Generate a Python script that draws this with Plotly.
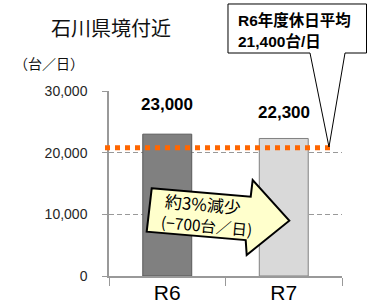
import plotly.graph_objects as go

# ---- data ----
categories = ["R6", "R7"]
traffic = [23000, 22300]                 # 台/日
value_labels = ["23,000", "22,300"]
holiday_avg_drawn = 20800                # position of the dotted line as drawn
callout_lines = ["R6年度休日平均", "21,400台/日"]
arrow_lines = ["約3%減少", "(−700台／日)"]
y_ticks = [0, 10000, 20000, 30000]
y_ticklabels = ["0", "10,000", "20,000", "30,000"]

# ---- style ----
W, H = 371, 307
L, R, T, B = 109, 29, 91, 31
PW, PH = W - L - R, H - T - B
JP = "Noto Sans CJK JP"
LAT = "Liberation Sans, Arial, Noto Sans CJK JP"
bar_fill = ["#808080", "#D9D9D9"]
bar_line = ["#595959", "#808080"]
label_shift = [30, 26]


def px_x(px):
    return (px - L) / PW


def px_y(py):
    return (H - B - py) / PH


def path(points):
    return "M " + " L ".join(f"{px_x(x):.4f},{px_y(y):.4f}" for x, y in points) + " Z"


fig = go.Figure()
fig.add_trace(go.Bar(
    x=categories, y=traffic, width=0.42,
    marker=dict(color=bar_fill, line=dict(color=bar_line, width=1)),
    hoverinfo="skip",
))

shapes = []
# dotted holiday-average line
shapes.append(dict(type="line", xref="paper", yref="y",
                   x0=px_x(105), x1=px_x(330), y0=holiday_avg_drawn, y1=holiday_avg_drawn,
                   line=dict(color="#FF6600", width=5, dash="5px,5px"), layer="above"))
# callout box with pointer
shapes.append(dict(type="path", xref="paper", yref="paper",
                   path=path([(228, 4), (366.5, 4), (366.5, 53), (345, 53), (329, 147),
                              (310, 53), (228, 53)]),
                   fillcolor="white", line=dict(color="black", width=1), layer="above"))
# block arrow
shapes.append(dict(type="path", xref="paper", yref="paper",
                   path=path([(151.7, 188.3), (250.7, 196.7), (252.7, 180), (289.3, 220.7),
                              (246.7, 255), (245.7, 240.1), (146.7, 231.7)]),
                   fillcolor="#FFFFCC", line=dict(color="black", width=2), layer="above"))

ann = []
# title and unit
ann.append(dict(xref="paper", yref="paper", x=px_x(111), y=px_y(27), text="石川県境付近",
                showarrow=False, xanchor="center", yanchor="middle",
                font=dict(family=JP, size=20, color="#111111")))
ann.append(dict(xref="paper", yref="paper", x=px_x(49), y=px_y(63), text="（台／日）",
                showarrow=False, xanchor="center", yanchor="middle",
                font=dict(family=JP, size=14, color="#111111")))
# bar value labels
for c, v, t, s in zip(categories, traffic, value_labels, label_shift):
    ann.append(dict(x=c, y=v, text=f"<b>{t}</b>", showarrow=False, yanchor="middle",
                    yshift=s, font=dict(family=LAT, size=17, color="black")))
# callout text
for t, yy in zip(callout_lines, [20, 41]):
    ann.append(dict(xref="paper", yref="paper", x=px_x(236), y=px_y(yy), text=f"<b>{t}</b>",
                    showarrow=False, xanchor="left", yanchor="middle",
                    font=dict(family=LAT, size=15.5, color="black")))
# arrow text
for t, (xx, yy), fs in zip(arrow_lines, [(203, 203), (206, 225)], [17, 15.5]):
    ann.append(dict(xref="paper", yref="paper", x=px_x(xx), y=px_y(yy), text=t,
                    showarrow=False, xanchor="center", yanchor="middle", textangle=5,
                    font=dict(family=JP, size=fs, color="black")))

fig.update_layout(
    width=W, height=H, margin=dict(l=L, r=R, t=T, b=B, pad=0, autoexpand=False),
    paper_bgcolor="white", plot_bgcolor="white", showlegend=False,
    shapes=shapes, annotations=ann, bargap=0.58,
    xaxis=dict(type="category", range=[-0.5, 1.5], showgrid=False, automargin=False,
               showline=True, linecolor="#999999", linewidth=1.5,
               ticks="outside", tickson="boundaries", ticklen=8, tickcolor="#999999",
               ticklabelstandoff=-3,
               tickfont=dict(family=LAT, size=21, color="black"), fixedrange=True),
    yaxis=dict(range=[0, 30000], tickvals=y_ticks, ticktext=y_ticklabels, automargin=False,
               showgrid=True, gridcolor="#999999", griddash="5px,3px", gridwidth=1,
               zeroline=False, showline=True, linecolor="#999999", linewidth=1.5,
               ticks="outside", ticklen=5, tickcolor="#999999", ticklabelstandoff=12,
               tickfont=dict(family=LAT, size=14, color="#262626"), fixedrange=True),
)

fig.write_html("out.html", config={"displayModeBar": False},
               post_script="document.body.style.margin='0';document.body.style.overflow='hidden';")
